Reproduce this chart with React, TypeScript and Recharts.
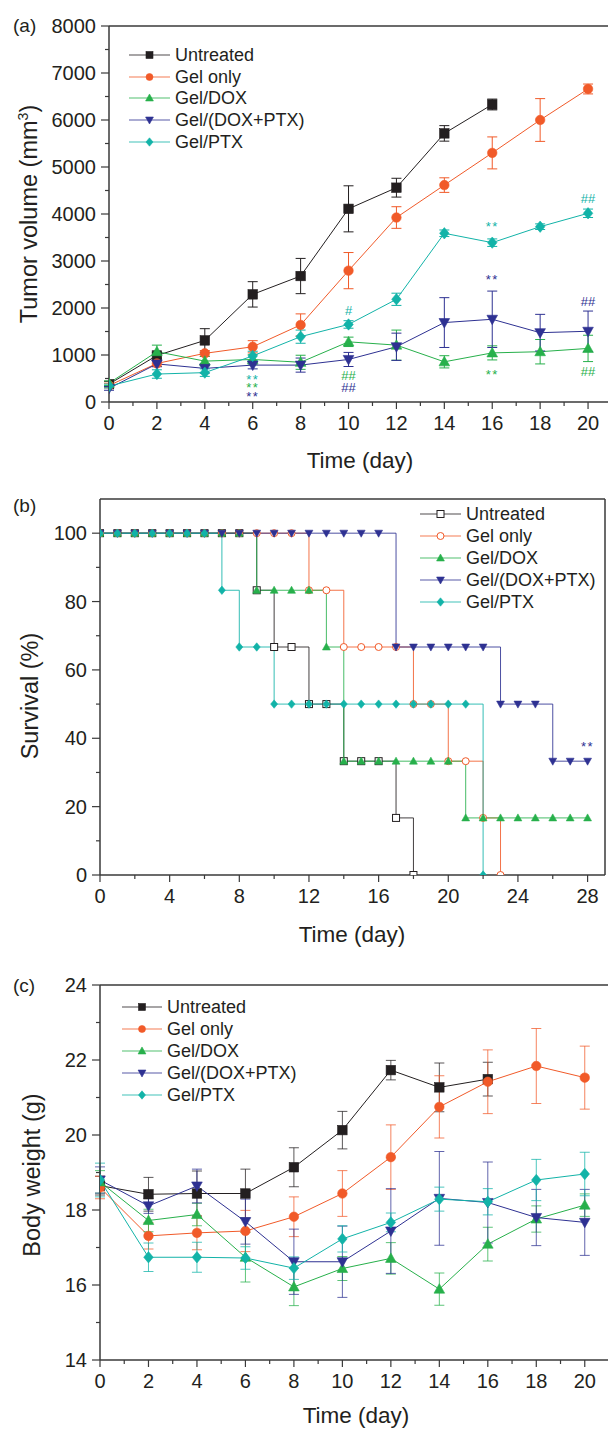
import React from 'react';
import { ComposedChart, Line, XAxis, YAxis, ErrorBar, ReferenceLine, Scatter } from 'recharts';

const FONT = '"Liberation Sans", Arial, Helvetica, sans-serif';
const AXIS = '#3a3a3a';
const INK = '#231f20';

const groups = ['Untreated', 'Gel only', 'Gel/DOX', 'Gel/(DOX+PTX)', 'Gel/PTX'];
const groupColors = ['#231f20', '#f15a29', '#27b04b', '#2e3192', '#12b3a8'];
const groupShapes = ['square', 'circle', 'up', 'down', 'diamond'];

// (a) tumor volume, mm3
const volDays = [0, 2, 4, 6, 8, 10, 12, 14, 16, 18, 20];
const untreatedVol = [380, 990, 1310, 2290, 2680, 4110, 4560, 5715, 6330];
const untreatedVolErr = [60, 60, 250, 270, 375, 490, 200, 165, 115];
const gelVol = [350, 820, 1035, 1175, 1640, 2795, 3925, 4615, 5300, 6000, 6660];
const gelVolErr = [50, 60, 60, 130, 235, 385, 230, 155, 340, 455, 105];
const doxVol = [400, 1070, 870, 905, 845, 1280, 1210, 855, 1045, 1070, 1140];
const doxVolErr = [50, 140, 100, 100, 150, 100, 320, 130, 150, 260, 280];
const comboVol = [290, 810, 715, 785, 785, 905, 1175, 1690, 1760, 1475, 1505];
const comboVolErr = [40, 60, 100, 80, 150, 150, 290, 530, 600, 390, 430];
const ptxVol = [340, 595, 625, 980, 1390, 1650, 2185, 3590, 3390, 3730, 4015];
const ptxVolErr = [40, 90, 80, 100, 140, 80, 130, 70, 80, 60, 90];
const volTicksX = [0, 1, 2, 3, 4, 5, 6, 7, 8, 9, 10, 11, 12, 13, 14, 15, 16, 17, 18, 19, 20];
const volTicksY = [0, 500, 1000, 1500, 2000, 2500, 3000, 3500, 4000, 4500, 5000, 5500, 6000, 6500, 7000, 7500, 8000];

// significance marks on (a): day, value, text, group
const volMarks = [
  { day: 6, v: 560, text: '**', group: 4 },
  { day: 6, v: 377, text: '**', group: 2 },
  { day: 6, v: 185, text: '**', group: 3 },
  { day: 10, v: 1943, text: '#', group: 4 },
  { day: 10, v: 560, text: '##', group: 2 },
  { day: 10, v: 304, text: '##', group: 3 },
  { day: 16, v: 3815, text: '**', group: 4 },
  { day: 16, v: 2687, text: '**', group: 3 },
  { day: 16, v: 660, text: '**', group: 2 },
  { day: 20, v: 4319, text: '##', group: 4 },
  { day: 20, v: 2121, text: '##', group: 3 },
  { day: 20, v: 632, text: '##', group: 2 },
];

// (b) survival, %
const survDays = [0, 1, 2, 3, 4, 5, 6, 7, 8, 9, 10, 11, 12, 13, 14, 15, 16, 17, 18, 19, 20, 21, 22, 23, 24, 25, 26, 27, 28];
const untreatedSurv = [100, 100, 100, 100, 100, 100, 100, 100, 100, 83.3, 66.7, 66.7, 50, 50, 33.3, 33.3, 33.3, 16.7, 0];
const gelSurv = [100, 100, 100, 100, 100, 100, 100, 100, 100, 100, 100, 100, 83.3, 83.3, 66.7, 66.7, 66.7, 66.7, 50, 50, 33.3, 33.3, 16.7, 0];
const doxSurv = [100, 100, 100, 100, 100, 100, 100, 100, 100, 83.3, 83.3, 83.3, 83.3, 66.7, 33.3, 33.3, 33.3, 33.3, 33.3, 33.3, 33.3, 16.7, 16.7, 16.7, 16.7, 16.7, 16.7, 16.7, 16.7];
const comboSurv = [100, 100, 100, 100, 100, 100, 100, 100, 100, 100, 100, 100, 100, 100, 100, 100, 100, 66.7, 66.7, 66.7, 66.7, 66.7, 66.7, 50, 50, 50, 33.3, 33.3, 33.3];
const ptxSurv = [100, 100, 100, 100, 100, 100, 100, 83.3, 66.7, 66.7, 50, 50, 50, 50, 50, 50, 50, 50, 50, 50, 50, 50, 0];
const survTicksX = [0, 2, 4, 6, 8, 10, 12, 14, 16, 18, 20, 22, 24, 26, 28];
const survTicksY = [0, 10, 20, 30, 40, 50, 60, 70, 80, 90, 100];
const survMarks = [{ day: 28, v: 38.6, text: '**', group: 3 }];

// (c) body weight, g
const untreatedBw = [18.65, 18.42, 18.44, 18.44, 19.14, 20.13, 21.73, 21.27, 21.49];
const untreatedBwErr = [0.25, 0.45, 0.6, 0.65, 0.52, 0.5, 0.26, 0.65, 0.45];
const gelBw = [18.6, 17.31, 17.39, 17.44, 17.82, 18.44, 19.41, 20.75, 21.42, 21.84, 21.53];
const gelBwErr = [0.3, 0.35, 0.45, 0.55, 0.53, 0.61, 0.86, 0.83, 0.85, 1.0, 0.84];
const doxBw = [18.75, 17.72, 17.88, 16.74, 15.95, 16.44, 16.71, 15.89, 17.09, 17.76, 18.13];
const doxBwErr = [0.3, 0.3, 0.3, 0.66, 0.5, 0.32, 0.42, 0.43, 0.45, 0.35, 0.3];
const comboBw = [18.8, 18.11, 18.64, 17.69, 16.62, 16.62, 17.44, 18.31, 18.2, 17.8, 17.67];
const comboBwErr = [0.35, 0.2, 0.45, 0.6, 0.87, 0.95, 1.13, 1.25, 1.08, 0.75, 0.88];
const ptxBw = [18.8, 16.74, 16.74, 16.72, 16.45, 17.23, 17.67, 18.29, 18.22, 18.8, 18.96];
const ptxBwErr = [0.45, 0.38, 0.4, 0.3, 0.3, 0.35, 0.25, 0.32, 0.35, 0.55, 0.58];
const bwTicksY = [14, 15, 16, 17, 18, 19, 20, 21, 22, 23, 24];

const rows = (xs: number[], vals: number[], errs?: number[]) =>
  vals.map((v, i) => ({ day: xs[i], v, e: errs ? errs[i] : 0 }));

const volData = [
  rows(volDays, untreatedVol, untreatedVolErr),
  rows(volDays, gelVol, gelVolErr),
  rows(volDays, doxVol, doxVolErr),
  rows(volDays, comboVol, comboVolErr),
  rows(volDays, ptxVol, ptxVolErr),
];
const survData = [
  rows(survDays, untreatedSurv),
  rows(survDays, gelSurv),
  rows(survDays, doxSurv),
  rows(survDays, comboSurv),
  rows(survDays, ptxSurv),
];
const bwData = [
  rows(volDays, untreatedBw, untreatedBwErr),
  rows(volDays, gelBw, gelBwErr),
  rows(volDays, doxBw, doxBwErr),
  rows(volDays, comboBw, comboBwErr),
  rows(volDays, ptxBw, ptxBwErr),
];

function Marker({ kind, cx, cy, size, color, open }: any) {
  if (cx == null || cy == null) return <g />;
  const h = size / 2;
  const fill = open ? '#fff' : color;
  const sw = open ? 1 : 0.6;
  if (kind === 'square') return <rect x={cx - h} y={cy - h} width={size} height={size} fill={fill} stroke={color} strokeWidth={sw} />;
  if (kind === 'circle') return <circle cx={cx} cy={cy} r={h} fill={fill} stroke={color} strokeWidth={sw} />;
  let pts = '';
  if (kind === 'up') pts = `${cx},${cy - h * 1.15} ${cx - h * 1.12},${cy + h * 0.85} ${cx + h * 1.12},${cy + h * 0.85}`;
  if (kind === 'down') pts = `${cx},${cy + h * 1.15} ${cx - h * 1.12},${cy - h * 0.85} ${cx + h * 1.12},${cy - h * 0.85}`;
  if (kind === 'diamond') pts = `${cx},${cy - h * 1.2} ${cx + h},${cy} ${cx},${cy + h * 1.2} ${cx - h},${cy}`;
  return <polygon points={pts} fill={fill} stroke={color} strokeWidth={sw} />;
}

const xTick = (major: number) => (props: any) => {
  const { x, y, payload } = props;
  const isMajor = payload.value % major === 0;
  return (
    <g>
      <line x1={x} x2={x} y1={y} y2={y + (isMajor ? 7 : 4)} stroke={AXIS} strokeWidth={1.2} />
      {isMajor && (
        <text x={x} y={y + 28} textAnchor="middle" fontSize={20} fill={INK} fontFamily={FONT}>
          {payload.value}
        </text>
      )}
    </g>
  );
};

const yTick = (major: number) => (props: any) => {
  const { x, y, payload } = props;
  const isMajor = payload.value % major === 0;
  return (
    <g>
      <line x1={x - (isMajor ? 8 : 4)} x2={x} y1={y} y2={y} stroke={AXIS} strokeWidth={1.2} />
      {isMajor && (
        <text x={x - 13} y={y + 7} textAnchor="end" fontSize={20} fill={INK} fontFamily={FONT}>
          {payload.value}
        </text>
      )}
    </g>
  );
};

const markShape = (p: any) => {
  const star = p.payload.text.includes('*');
  return (
    <text
      x={p.cx}
      y={p.cy + (star ? 8 : 4)}
      textAnchor="middle"
      fontSize={13}
      letterSpacing={star ? 1.5 : 0}
      fill={groupColors[p.payload.group]}
      fontFamily={FONT}
    >
      {p.payload.text}
    </text>
  );
};

function LegendBlock({ left, top, gap, lineW, size, open }: any) {
  return (
    <div style={{ position: 'absolute', left, top }}>
      {groups.map((g, i) => (
        <div
          key={g}
          style={{ position: 'absolute', left: 0, top: i * gap - 10, height: 20, display: 'flex', alignItems: 'center', whiteSpace: 'nowrap' }}
        >
          <svg width={lineW} height={20} style={{ display: 'block' }}>
            <line x1={0} x2={lineW} y1={10} y2={10} stroke={groupColors[i]} strokeWidth={1} strokeOpacity={0.8} />
            <Marker kind={groupShapes[i]} cx={lineW / 2} cy={10} size={size} color={groupColors[i]} open={open && i < 2} />
          </svg>
          <span style={{ marginLeft: 5, fontSize: 18, color: INK, fontFamily: FONT, lineHeight: '20px' }}>{g}</span>
        </div>
      ))}
    </div>
  );
}

const txt = (style: React.CSSProperties): React.CSSProperties => ({
  position: 'absolute',
  fontFamily: FONT,
  color: INK,
  whiteSpace: 'nowrap',
  lineHeight: 1,
  ...style,
});

const yTitle = (cx: number, cy: number): React.CSSProperties =>
  txt({ left: cx, top: cy, fontSize: 23.5, transform: 'translate(-50%, -50%) rotate(-90deg)' });
const xTitle = (cx: number, cy: number): React.CSSProperties =>
  txt({ left: cx, top: cy, fontSize: 22.5, transform: 'translate(-50%, -50%)' });

const axisProps = {
  type: 'number' as const,
  interval: 0 as const,
  tickSize: 0,
  tickMargin: 0,
  tickLine: false,
  axisLine: { stroke: AXIS, strokeWidth: 1.5 },
  allowDataOverflow: true,
};

export default function App() {
  return (
    <div style={{ position: 'absolute', left: 0, top: 0, width: 608, height: 1429, overflow: 'hidden', background: '#fff' }}>
      {/* (a) tumor volume */}
      <div style={{ position: 'absolute', left: 0, top: 0 }}>
        <ComposedChart width={640} height={470} margin={{ top: 26, right: 28, bottom: 67, left: 108 }}>
          <XAxis {...axisProps} dataKey="day" domain={[0, 21]} ticks={volTicksX} height={1} tick={xTick(2)} />
          <YAxis {...axisProps} domain={[0, 8000]} ticks={volTicksY} width={1} tick={yTick(1000)} />
          <ReferenceLine y={8000} stroke={AXIS} strokeWidth={1.5} />
          {volData.map((d, i) => (
            <Line
              key={groups[i]}
              data={d}
              dataKey="v"
              type="linear"
              stroke={groupColors[i]}
              strokeWidth={1}
              isAnimationActive={false}
              activeDot={false}
              dot={(p: any) => <Marker key={`a${i}-${p.index}`} kind={groupShapes[i]} cx={p.cx} cy={p.cy} size={9.5} color={groupColors[i]} />}
            >
              <ErrorBar dataKey="e" direction="y" width={5} stroke={groupColors[i]} strokeWidth={1} isAnimationActive={false} />
            </Line>
          ))}
          <Scatter data={volMarks} dataKey="v" shape={markShape} isAnimationActive={false} />
        </ComposedChart>
      </div>
      <div style={txt({ left: 13, top: 16, fontSize: 19 })}>(a)</div>
      <div style={yTitle(29, 214)}>
        Tumor volume (mm<sup style={{ fontSize: '0.6em' }}>3</sup>)
      </div>
      <div style={xTitle(360, 461)}>Time (day)</div>
      <LegendBlock left={129} top={55} gap={21.7} lineW={41} size={7} open={false} />

      {/* (b) survival */}
      <div style={{ position: 'absolute', left: 0, top: 470 }}>
        <ComposedChart width={640} height={480} margin={{ top: 29, right: 35, bottom: 74, left: 99 }}>
          <XAxis {...axisProps} dataKey="day" domain={[0, 29]} ticks={survTicksX} height={1} tick={xTick(4)} />
          <YAxis {...axisProps} domain={[0, 110]} ticks={survTicksY} width={1} tick={yTick(20)} />
          <ReferenceLine y={110} stroke={AXIS} strokeWidth={1.5} />
          <ReferenceLine x={29} stroke={AXIS} strokeWidth={1.5} />
          {survData.map((d, i) => (
            <Line
              key={groups[i]}
              data={d}
              dataKey="v"
              type="stepAfter"
              stroke={groupColors[i]}
              strokeWidth={1}
              strokeOpacity={0.85}
              isAnimationActive={false}
              activeDot={false}
              dot={(p: any) => (
                <Marker key={`b${i}-${p.index}`} kind={groupShapes[i]} cx={p.cx} cy={p.cy} size={7} color={groupColors[i]} open={i < 2} />
              )}
            />
          ))}
          <Scatter data={survMarks} dataKey="v" shape={markShape} isAnimationActive={false} />
        </ComposedChart>
      </div>
      <div style={txt({ left: 13, top: 496, fontSize: 19 })}>(b)</div>
      <div style={yTitle(31, 696)}>Survival (%)</div>
      <div style={xTitle(352, 935)}>Time (day)</div>
      <LegendBlock left={420} top={514} gap={22.1} lineW={41} size={7} open={true} />

      {/* (c) body weight */}
      <div style={{ position: 'absolute', left: 0, top: 950 }}>
        <ComposedChart width={640} height={479} margin={{ top: 35, right: 31, bottom: 68, left: 99 }}>
          <XAxis {...axisProps} dataKey="day" domain={[0, 21]} ticks={volTicksX} height={1} tick={xTick(2)} />
          <YAxis {...axisProps} domain={[14, 24]} ticks={bwTicksY} width={1} tick={yTick(2)} />
          <ReferenceLine y={24} stroke={AXIS} strokeWidth={1.5} />
          {bwData.map((d, i) => (
            <Line
              key={groups[i]}
              data={d}
              dataKey="v"
              type="linear"
              stroke={groupColors[i]}
              strokeWidth={1}
              isAnimationActive={false}
              activeDot={false}
              dot={(p: any) => <Marker key={`c${i}-${p.index}`} kind={groupShapes[i]} cx={p.cx} cy={p.cy} size={9.5} color={groupColors[i]} />}
            >
              <ErrorBar dataKey="e" direction="y" width={5} stroke={groupColors[i]} strokeWidth={1} strokeOpacity={0.75} isAnimationActive={false} />
            </Line>
          ))}
        </ComposedChart>
      </div>
      <div style={txt({ left: 13, top: 976, fontSize: 19 })}>(c)</div>
      <div style={yTitle(33, 1175)}>Body weight (g)</div>
      <div style={xTitle(356, 1416)}>Time (day)</div>
      <LegendBlock left={122} top={1007} gap={21.9} lineW={40} size={7} open={false} />
    </div>
  );
}
